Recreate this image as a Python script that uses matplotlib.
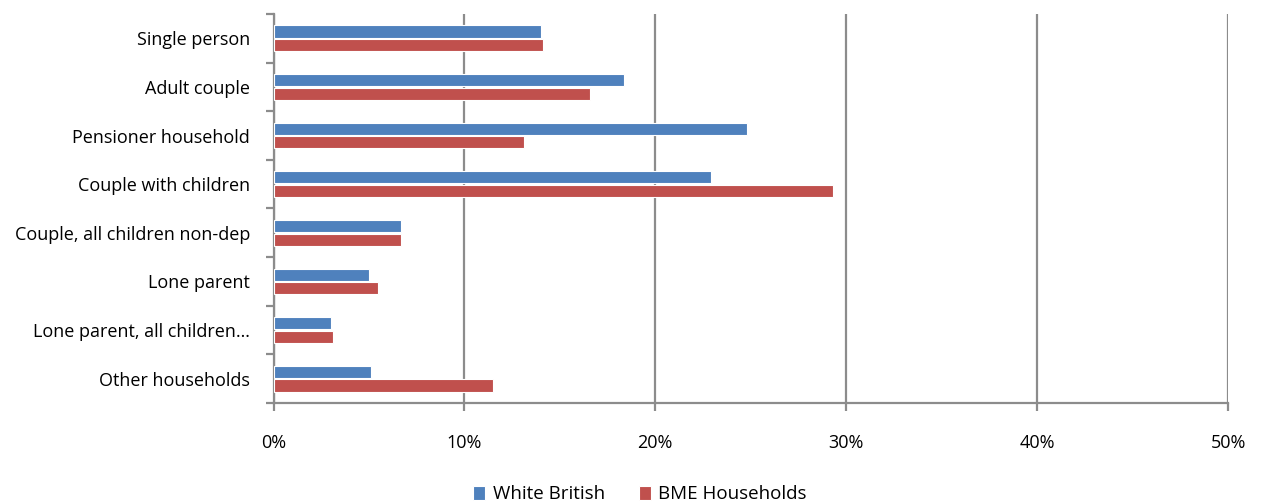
import numpy as np
import matplotlib.pyplot as plt

# Household types (top to bottom, as in the chart)
categories = ['Single person', 'Adult couple', 'Pensioner household',
              'Couple with children', 'Couple, all children non-dep',
              'Lone parent', 'Lone parent, all children\u2026',
              'Other households']
white_british = [14.0, 18.35, 24.8, 22.9, 6.7, 5.0, 3.0, 5.1]
bme_households = [14.1, 16.6, 13.1, 29.3, 6.7, 5.5, 3.1, 11.5]
x_ticks = [0, 10, 20, 30, 40, 50]

plt.rcParams['font.family'] = ['Open Sans', 'DejaVu Sans']
fs = 13

fig = plt.figure(figsize=(12.63, 5.04), dpi=100)
ax = fig.add_axes([273.5 / 1263, 101 / 504, (1228 - 273.5) / 1263, 389 / 504])

pos = np.arange(len(categories))
h = 0.25
ax.barh(pos - 0.14, white_british, height=h, color='#4F81BD',
        edgecolor='white', linewidth=0.8, label='White British', zorder=3)
ax.barh(pos + 0.14, bme_households, height=h, color='#C0504D',
        edgecolor='white', linewidth=0.8, label='BME Households', zorder=3)

ax.set_xlim(0, 50)
ax.set_ylim(len(categories) - 0.5, -0.5)
ax.set_xticks(x_ticks)
ax.set_xticklabels([f'{t}%' for t in x_ticks], fontsize=fs)
ax.xaxis.grid(True, color='#8C8C8C', linewidth=1.6, zorder=0)

# category labels centred, tick marks at the band boundaries
ax.set_yticks(pos)
ax.set_yticklabels(categories, fontsize=fs)
ax.tick_params(axis='y', length=0, pad=17)
ax.set_yticks(np.arange(-0.5, len(categories)), minor=True)
ax.tick_params(axis='y', which='minor', length=6, width=1.6, color='#8C8C8C')
ax.tick_params(axis='x', length=6, width=1.6, color='#8C8C8C', pad=16)

for s in ['top', 'right']:
    ax.spines[s].set_visible(False)
for s in ['left', 'bottom']:
    ax.spines[s].set_color('#8C8C8C')
    ax.spines[s].set_linewidth(1.6)

ax.legend(loc='center', bbox_to_anchor=(0.384, -0.235), ncol=2,
          frameon=False, fontsize=13.5, handlelength=0.65, handleheight=0.75,
          columnspacing=1.8, handletextpad=0.4)

fig.savefig('out.png', dpi=100)
